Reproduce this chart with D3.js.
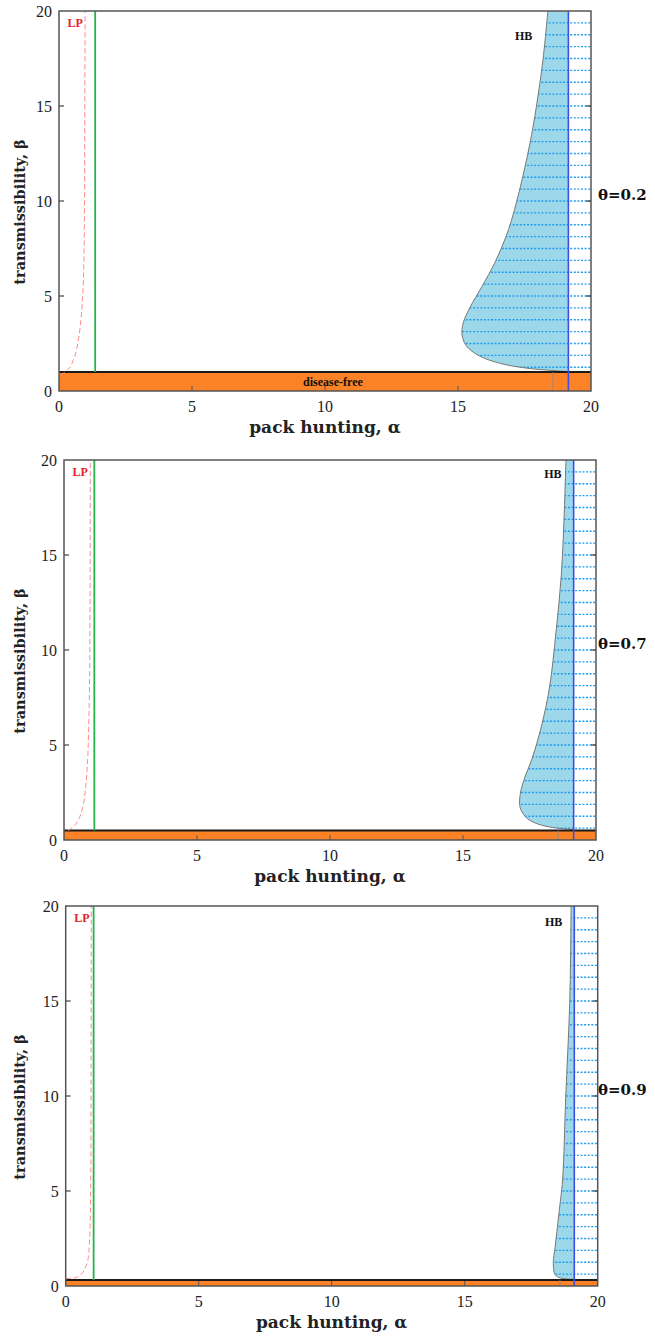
<!DOCTYPE html>
<html>
<head>
<meta charset="utf-8">
<script src="https://cdn.jsdelivr.net/npm/d3@7"></script>
<style>
  html, body { margin: 0; padding: 0; background: #fff; }
  svg { display: block; }
</style>
</head>
<body>
<svg id="chart" width="655" height="1338"></svg>
<script>
// Three stacked two-parameter bifurcation panels (alpha vs beta), one per theta.
const alphaDomain = [0, 20];
const betaDomain = [0, 20];
const tickValues = [0, 5, 10, 15, 20];
const thetaLabels = ["θ=0.2", "θ=0.7", "θ=0.9"];

// disease-free band upper edge (beta)
const diseaseFreeTop = [1.0, 0.5, 0.32];
// vertical lines (alpha)
const greenAlpha = [1.36, 1.14, 1.05];
const blueAlpha = [19.15, 19.16, 19.12];
const grayAlpha = [18.57, 18.58, 18.58];
// HB label anchor [alpha, beta]
const hbLabelAt = [[17.14, 18.7], [18.05, 19.25], [18.02, 19.16]];

// LP curves [alpha, beta]
const lpTheta02 = [[0.08, 0.8], [0.2, 0.98], [0.35, 1.15], [0.53, 1.6], [0.73, 2.7], [0.82, 3.7], [0.89, 5], [0.93, 6.5], [0.96, 10], [0.97, 15], [0.98, 20]];
const lpTheta07 = [[0.15, 0.5], [0.35, 0.7], [0.55, 1.1], [0.7, 1.7], [0.8, 2.6], [0.88, 4], [0.93, 6], [0.97, 10], [0.99, 20]];
const lpTheta09 = [[0.0, 0.38], [0.4, 0.45], [0.6, 0.65], [0.75, 1.0], [0.85, 1.5], [0.9, 2.5], [0.93, 4], [0.95, 8], [0.96, 20]];

// HB curves [alpha, beta], top to bottom
const hbTheta02 = [[18.38, 20], [18.2, 17.5], [17.95, 15], [17.7, 13], [17.3, 10.5], [16.9, 8.5], [16.4, 6.8], [15.9, 5.5], [15.45, 4.4], [15.2, 3.6], [15.15, 3.0], [15.3, 2.4], [15.8, 1.85], [16.6, 1.45], [17.6, 1.2], [18.57, 1.08], [19.15, 1.02]];
const hbTheta07 = [[18.87, 20], [18.8, 17], [18.7, 14], [18.5, 11], [18.25, 8], [17.95, 6], [17.6, 4.3], [17.3, 3.2], [17.15, 2.4], [17.15, 1.7], [17.4, 1.15], [17.8, 0.85], [18.4, 0.65], [19.16, 0.55]];
const hbTheta09 = [[19.0, 20], [18.95, 15], [18.8, 10], [18.68, 5.6], [18.54, 3.8], [18.4, 2.05], [18.33, 1.2], [18.4, 0.6], [18.6, 0.42], [19.12, 0.36]];

const lpCurves = [lpTheta02, lpTheta07, lpTheta09];
const hbCurves = [hbTheta02, hbTheta07, hbTheta09];
const hatchStep = 0.625;

// panel placement on the page
const panels = [
  { left: 59, top: 11 },
  { left: 64, top: 460 },
  { left: 65.7, top: 906 }
];
const pw = 532, ph = 380;

const svg = d3.select("#chart");
svg.append("rect").attr("width", 655).attr("height", 1338).attr("fill", "#fff");
const defs = svg.append("defs");

panels.forEach((p, i) => {
  const x = d3.scaleLinear().domain(alphaDomain).range([0, pw]);
  const y = d3.scaleLinear().domain(betaDomain).range([ph, 0]);
  const g = svg.append("g").attr("transform", `translate(${p.left},${p.top})`);

  const hb = hbCurves[i];
  const curve = d3.line().x(d => x(d[0])).y(d => y(d[1])).curve(d3.curveCatmullRom.alpha(0.5));
  const hbPath = curve(hb);
  const last = hb[hb.length - 1];

  // shaded region between HB and blue line
  g.append("path")
    .attr("d", hbPath + `L${x(blueAlpha[i])},${y(20)}Z`)
    .attr("fill", "#9dd8ea");

  // hatching to the right of HB
  const clipId = `hatch-clip-${i}`;
  defs.append("clipPath").attr("id", clipId)
    .append("path")
    .attr("d", hbPath + `L${x(20)},${y(last[1])}L${x(20)},${y(20)}Z`);
  g.append("g")
    .attr("clip-path", `url(#${clipId})`)
    .selectAll("line")
    .data(d3.range(hatchStep, 20, hatchStep))
    .join("line")
    .attr("x1", x(0)).attr("x2", x(20))
    .attr("y1", d => y(d)).attr("y2", d => y(d))
    .attr("stroke", "#1f9cf0")
    .attr("stroke-width", 1.4)
    .attr("stroke-dasharray", "2,1.6");

  g.append("path")
    .attr("d", hbPath)
    .attr("fill", "none")
    .attr("stroke", "#777")
    .attr("stroke-width", 1);

  // disease-free band
  g.append("rect")
    .attr("x", x(0)).attr("y", y(diseaseFreeTop[i]))
    .attr("width", x(20) - x(0))
    .attr("height", y(0) - y(diseaseFreeTop[i]))
    .attr("fill", "#fb8226");
  g.append("line")
    .attr("x1", x(0)).attr("x2", x(20))
    .attr("y1", y(diseaseFreeTop[i])).attr("y2", y(diseaseFreeTop[i]))
    .attr("stroke", "#1a1a1a").attr("stroke-width", 2);
  g.append("line")
    .attr("x1", x(grayAlpha[i])).attr("x2", x(grayAlpha[i]))
    .attr("y1", y(0)).attr("y2", y(diseaseFreeTop[i]))
    .attr("stroke", "#888").attr("stroke-width", 0.8);

  // green line
  g.append("line")
    .attr("x1", x(greenAlpha[i])).attr("x2", x(greenAlpha[i]))
    .attr("y1", y(20)).attr("y2", y(diseaseFreeTop[i]))
    .attr("stroke", "#25b34a").attr("stroke-width", 1.8);

  // LP curve
  g.append("path")
    .attr("d", d3.line().x(d => x(d[0])).y(d => y(d[1])).curve(d3.curveMonotoneY)(lpCurves[i]))
    .attr("fill", "none")
    .attr("stroke", "#ff8a8a")
    .attr("stroke-width", 1)
    .attr("stroke-dasharray", "5,3");

  // blue line
  g.append("line")
    .attr("x1", x(blueAlpha[i])).attr("x2", x(blueAlpha[i]))
    .attr("y1", y(20)).attr("y2", y(0))
    .attr("stroke", "#3b4fe4").attr("stroke-width", 1.6);

  // frame + inward ticks
  g.append("rect")
    .attr("width", pw).attr("height", ph)
    .attr("fill", "none").attr("stroke", "#555").attr("stroke-width", 1.5);

  const tickLen = 5;
  const inner = tickValues.slice(1, -1);
  g.append("g").selectAll("line").data(inner).join("line")
    .attr("x1", d => x(d)).attr("x2", d => x(d))
    .attr("y1", ph).attr("y2", ph - tickLen)
    .attr("stroke", "#555").attr("stroke-width", 1);
  g.append("g").selectAll("line").data(inner).join("line")
    .attr("x1", 0).attr("x2", tickLen)
    .attr("y1", d => y(d)).attr("y2", d => y(d))
    .attr("stroke", "#444").attr("stroke-width", 1.2);
  g.append("g").selectAll("line").data(inner).join("line")
    .attr("x1", pw).attr("x2", pw - tickLen)
    .attr("y1", d => y(d)).attr("y2", d => y(d))
    .attr("stroke", "#444").attr("stroke-width", 1.2);

  // tick labels
  g.append("g").selectAll("text").data(tickValues).join("text")
    .attr("x", -7).attr("y", d => y(d)).attr("dy", "0.35em")
    .attr("text-anchor", "end")
    .style("font", "16px 'Liberation Serif', serif").attr("fill", "#222")
    .text(d => d);
  g.append("g").selectAll("text").data(tickValues).join("text")
    .attr("x", d => x(d)).attr("y", ph + 15).attr("dy", "0.35em")
    .attr("text-anchor", "middle")
    .style("font", "16px 'Liberation Serif', serif").attr("fill", "#222")
    .text(d => d);

  // axis titles
  g.append("text")
    .attr("x", pw / 2).attr("y", ph + 36).attr("dy", "0.35em")
    .attr("text-anchor", "middle")
    .style("font", "bold 17px 'DejaVu Serif', serif").attr("fill", "#222")
    .text("pack hunting, α");
  g.append("text")
    .attr("transform", `translate(${20 - p.left},${ph / 2 + 11}) rotate(-90)`)
    .attr("dy", "0.35em")
    .attr("text-anchor", "middle")
    .style("font", "bold 14.5px 'DejaVu Serif', serif").attr("fill", "#222")
    .text("transmissibility, β");

  // theta label
  g.append("text")
    .attr("x", 598 - p.left).attr("y", ph / 2 - 6).attr("dy", "0.35em")
    .style("font", "bold 15px 'DejaVu Serif', serif").attr("fill", "#111")
    .text(thetaLabels[i]);

  // curve labels
  g.append("text")
    .attr("x", x(0.32)).attr("y", y(19.4)).attr("dy", "0.35em")
    .style("font", "bold 12px 'Liberation Serif', serif").attr("fill", "#e8202a")
    .text("LP");
  g.append("text")
    .attr("x", x(hbLabelAt[i][0])).attr("y", y(hbLabelAt[i][1])).attr("dy", "0.35em")
    .style("font", "bold 12px 'Liberation Serif', serif").attr("fill", "#111")
    .text("HB");
  if (i === 0) {
    g.append("text")
      .attr("x", x(10.3)).attr("y", y(diseaseFreeTop[i] / 2)).attr("dy", "0.35em")
      .attr("text-anchor", "middle")
      .style("font", "bold 12px 'Liberation Serif', serif").attr("fill", "#111")
      .text("disease-free");
  }
});
</script>
</body>
</html>
